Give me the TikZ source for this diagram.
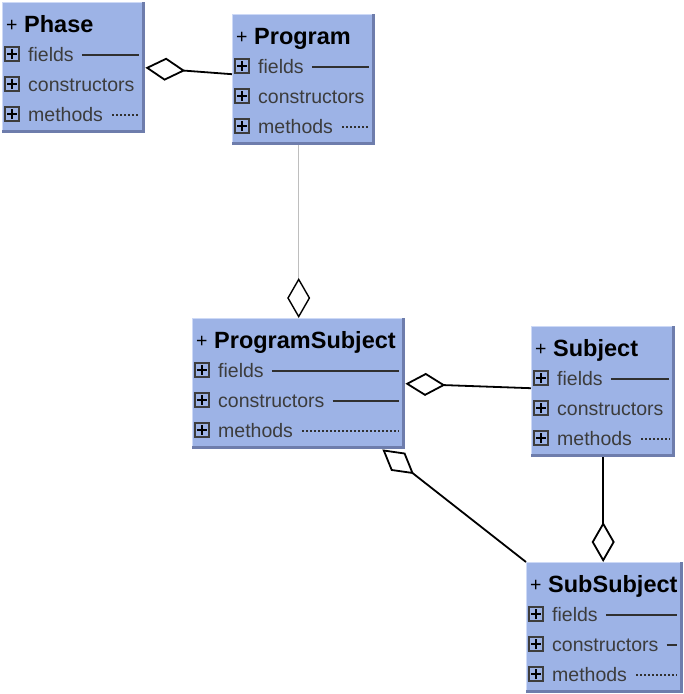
\documentclass[tikz,border=0pt]{standalone}
\usepackage{fontspec}
\setmainfont{Liberation Sans}
\usetikzlibrary{arrows.meta}
\definecolor{classFill}{RGB}{157,179,230}
\definecolor{edgeLight}{RGB}{205,217,246}
\definecolor{edgeDark}{RGB}{110,125,172}
\definecolor{memberText}{RGB}{60,60,60}
\definecolor{lineGray}{RGB}{190,190,190}
\tikzset{
  classbox/.style={fill=classFill, draw=none, minimum height=131pt, inner sep=0pt},
  member/.style={font=\fontsize{19.5}{21}\selectfont, text=memberText, inner sep=0pt, anchor=base west},
  header/.style={font=\fontsize{23.5}{25}\selectfont\bfseries, inner sep=0pt, anchor=base west},
  icon/.style={draw=memberText, line width=1.6pt, minimum size=14pt, inner sep=0pt},
  memberline/.style={draw=memberText!80!black, line width=2pt},
  memberdots/.style={draw=memberText!80!black, line width=2pt, dash pattern=on 2pt off 2pt},
  agg/.style={line width=1.8pt, -{Diamond[open, length=40pt, width=23pt, color=black]}},
}
% #1 name, #2 left, #3 top, #4 width, #5 title, #6 constructors line (1/0)
\newcommand{\umlclass}[6]{
  \node[classbox, minimum width=#4pt, anchor=north west] (#1) at (#2,#3) {};
  \draw[edgeLight, line width=1pt] ([xshift=0.5pt]#1.south west) -- ([xshift=0.5pt,yshift=-0.5pt]#1.north west) -- ([yshift=-0.5pt]#1.north east);
  \draw[edgeDark, line width=3pt] ([xshift=-1.5pt]#1.north east) -- ([xshift=-1.5pt,yshift=1.5pt]#1.south east) -- ([yshift=1.5pt]#1.south west);
  \coordinate (#1-r) at ([xshift=-6pt]#1.east);
  % title
  \node[member, text=black] (#1-p) at ([xshift=4pt,yshift=-29pt]#1.north west) {+};
  \node[header] (#1-t) at ([xshift=22pt,yshift=-30pt]#1.north west) {#5};
  % members
  \foreach \row/\lbl/\k in {52/fields/f, 82/constructors/c, 112/methods/m}{
    \node[icon] (#1-\k i) at ([xshift=10pt,yshift=-\row pt]#1.north west) {};
    \draw[line width=1.6pt] ([xshift=-5pt]#1-\k i.center) -- ([xshift=5pt]#1-\k i.center);
    \draw[line width=1.6pt] ([yshift=-5pt]#1-\k i.center) -- ([yshift=5pt]#1-\k i.center);
    \node[member] (#1-\k) at ([xshift=26pt,yshift=-\row pt-7.5pt]#1.north west) {\lbl};
  }
  \draw[memberline] ([xshift=8pt,yshift=7pt]#1-f.base east) -- ([yshift=7pt]#1-f.base east -| #1-r);
  \ifnum#6=1 \draw[memberline] ([xshift=8pt,yshift=7pt]#1-c.base east) -- ([yshift=7pt]#1-c.base east -| #1-r);\fi
  \draw[memberdots] ([xshift=9pt,yshift=7pt]#1-m.base east) -- ([yshift=7pt]#1-m.base east -| #1-r);
}
\begin{document}
\begin{tikzpicture}[x=1pt,y=-1pt]
\useasboundingbox (0,0) rectangle (684,694);
% classes
\umlclass{Phase}{2}{2}{143}{Phase}{0}
\umlclass{Program}{232}{14}{143}{Program}{0}
\umlclass{ProgramSubject}{192}{318}{213}{ProgramSubject}{1}
\umlclass{Subject}{531}{326}{144}{Subject}{0}
\umlclass{SubSubject}{526}{562}{157}{SubSubject}{1}
% aggregations
\draw[agg] ([yshift=5.5pt]Program.west) -- (Phase.east);
\draw[agg, draw=lineGray, line width=1.4pt] (Program.south -| ProgramSubject.north) -- (ProgramSubject.north);
\draw[agg] ([yshift=3.5pt]Subject.west) -- (ProgramSubject.east);
\draw[agg] (Subject.south) -- (Subject.south |- SubSubject.north);
\draw[agg] (SubSubject.north west) -- ([xshift=-23pt]ProgramSubject.south east);
\end{tikzpicture}
\end{document}
